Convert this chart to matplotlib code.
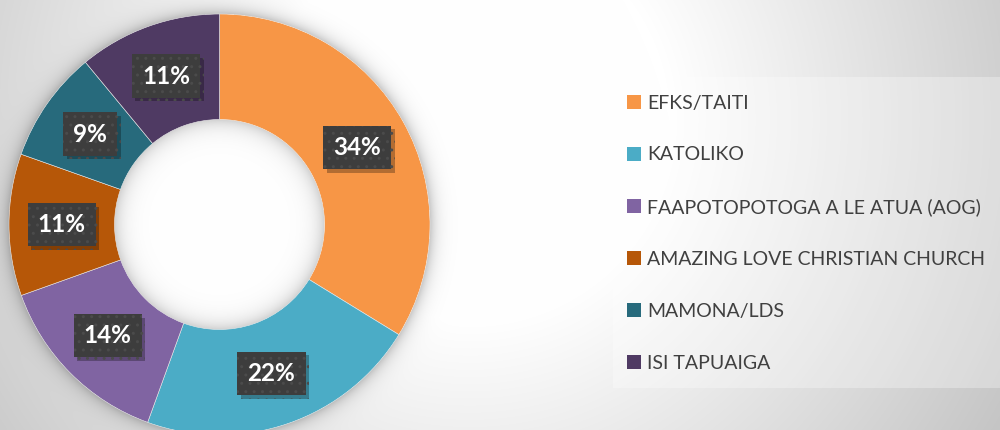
import numpy as np
import matplotlib
matplotlib.use("Agg")
import matplotlib.pyplot as plt
import matplotlib.patheffects as pe
from matplotlib.patches import Rectangle

# data (share of respondents)
labels = ["EFKS/TAITI", "KATOLIKO", "FAAPOTOPOTOGA A LE ATUA (AOG)",
          "AMAZING LOVE CHRISTIAN CHURCH", "MAMONA/LDS", "ISI TAPUAIGA"]
values = [33.8, 21.8, 14.0, 10.9, 8.6, 11.0]
colors = ["#F79646", "#4BACC6", "#8064A2", "#B65708", "#276A7C", "#4F3A63"]

W, H = 1000, 430
cx, cy = 219.5, 224.5      # donut centre, pixels from top-left
R_out, R_in = 210.5, 105.0

plt.rcParams['font.family'] = ['Lato', 'DejaVu Sans']

fig = plt.figure(figsize=(W / 100, H / 100), dpi=100)
ax = fig.add_axes([0, 0, 1, 1])

# background: soft radial grey, glow round the ring, inner shadow in the hole
yy, xx = np.mgrid[0:H, 0:W] + 0.5
bg = 1 - 0.00055 * np.clip(np.hypot(xx - 470, yy - 120) - 200, 0, None)
r = np.hypot(xx - cx, yy - cy)
outside = r > R_out
bg[outside] *= 1 - 0.22 * np.exp(-(r[outside] - R_out) / 7.0)
hole = r < R_in
bg[hole] = 1 - 0.18 * np.exp(-(R_in - r[hole]) / 9.0)
img = np.dstack([bg, bg, bg])
ax.imshow(img, extent=[0, W, 0, H], origin='upper', zorder=0)

wedges, texts, autotexts = ax.pie(
    values, colors=colors, startangle=90, counterclock=False,
    center=(cx, H - cy), radius=R_out,
    wedgeprops=dict(width=R_out - R_in, edgecolor='#e8e8e8', linewidth=0.4),
    autopct='%.0f%%', pctdistance=(R_out + R_in) / 2 / R_out,
    textprops=dict(color='white', fontsize=17.5, fontweight='bold'))

for t in autotexts:
    t.set_bbox(dict(boxstyle='square,pad=0.42', fc='#3d3d3d', ec='#4b4b4b',
                    lw=0, hatch='..'))
    t.get_bbox_patch().set_path_effects(
        [pe.SimplePatchShadow(offset=(2.5, -2.5), shadow_rgbFace='black', alpha=0.28),
         pe.Normal()])

ax.set_xlim(0, W)
ax.set_ylim(0, H)
ax.set_aspect('auto')
ax.axis('off')

# legend panel
ax.add_patch(Rectangle((613, H - 388), 400, 311, fc='white', ec='none',
                       alpha=0.3, zorder=1))

leg = ax.legend(wedges, labels, loc='upper left', bbox_to_anchor=(0.627, 0.78),
                frameon=False, fontsize=14, handlelength=0.72, handleheight=0.72,
                handletextpad=0.3, labelspacing=1.79, borderpad=0, borderaxespad=0,
                labelcolor='#404040')
for h in leg.legend_handles:
    h.set_edgecolor('none')

fig.savefig("out.png", dpi=100)
